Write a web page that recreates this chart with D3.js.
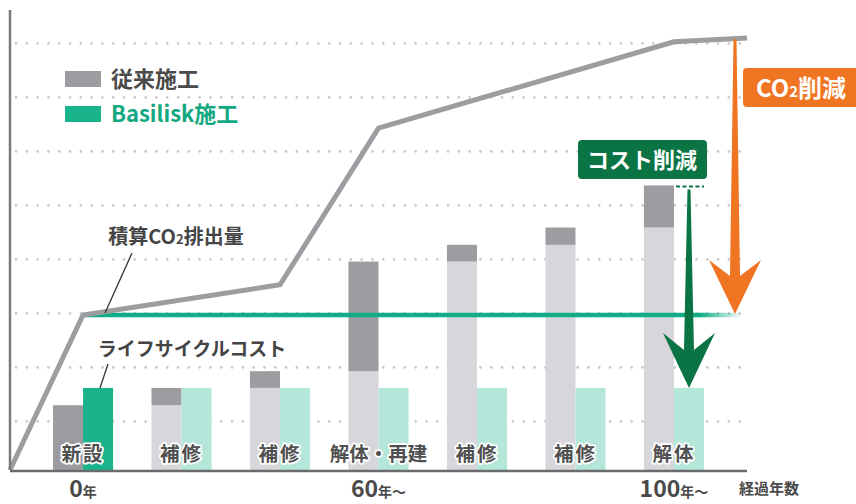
<!DOCTYPE html>
<html>
<head>
<meta charset="utf-8">
<script src="https://cdn.jsdelivr.net/npm/d3@7"></script>
<style>
body { margin: 0; background: #fff; }
text { font-family: "Noto Sans CJK JP", "Noto Sans", sans-serif; font-weight: 700; }
</style>
</head>
<body>
<script>
// events along the life of the structure
var events = ["新設", "補修", "補修", "解体・再建", "補修", "補修", "解体"];
// cost of each event (same unit for both)
var conventionalCost = [12, 3.2, 3.1, 20.3, 3.1, 3.2, 7.8];
var basiliskCost = [15.2, 0, 0, 0, 0, 0, 0];
// cumulative CO2: stage -1 = start of axis, 7 = end of axis
var co2Stage = [-1, 0, 2, 3, 6, 7];
var co2Conventional = [0, 28.7, 34.3, 63.3, 79.3, 80];
var co2BasiliskStage = [0, 7];
var co2Basilisk = [28.7, 28.7];
var gridValues = [9, 19, 29, 39, 49, 59, 69, 79];
var yearStage = [0, 3, 6];
var yearNum = ["0", "60", "100"];
var yearUnit = ["年", "年〜", "年〜"];

var w = 856, h = 504;
var x0 = 10, x1 = 747;

var svg = d3.select("body").append("svg")
	.attr("width", w)
	.attr("height", h);

var y = d3.scaleLinear()
	.domain([0, 85])
	.range([470, 11]);

var band = d3.scaleBand()
	.domain(d3.range(events.length))
	.range([53, 704])
	.paddingInner(0.39);

var sub = d3.scaleBand()
	.domain(["conv", "basi"])
	.range([0, band.bandwidth()]);

function stageX(i){
	if(i < 0) return x0;
	if(i >= events.length) return x1;
	return band(i) + band.bandwidth() / 2;
}

var convCum = d3.cumsum(conventionalCost);
var basiCum = d3.cumsum(basiliskCost);

// grid
svg.selectAll(".grid")
	.data(gridValues)
	.enter().append("line")
	.attr("class", "grid")
	.attr("x1", 16).attr("x2", x1)
	.attr("y1", d => y(d)).attr("y2", d => y(d))
	.attr("stroke", "#cacacd")
	.attr("stroke-width", 2.6)
	.attr("stroke-linecap", "round")
	.attr("stroke-dasharray", "0.1,10.7");

// conventional bars: light = accumulated so far, dark = this event
var convG = svg.append("g");
events.forEach(function(e, i){
	var prev = convCum[i] - conventionalCost[i];
	convG.append("rect")
		.attr("x", band(i) + sub("conv"))
		.attr("width", sub.bandwidth())
		.attr("y", y(prev))
		.attr("height", y(0) - y(prev))
		.attr("fill", "#d7d6da");
	convG.append("rect")
		.attr("x", band(i) + sub("conv"))
		.attr("width", sub.bandwidth())
		.attr("y", y(convCum[i]))
		.attr("height", y(prev) - y(convCum[i]))
		.attr("fill", "#9d9ca1");
});

var basiG = svg.append("g");
events.forEach(function(e, i){
	var prev = basiCum[i] - basiliskCost[i];
	basiG.append("rect")
		.attr("x", band(i) + sub("basi"))
		.attr("width", sub.bandwidth())
		.attr("y", y(prev))
		.attr("height", y(0) - y(prev))
		.attr("fill", "#b4e6d9");
	if(basiliskCost[i] > 0){
		basiG.append("rect")
			.attr("x", band(i) + sub("basi"))
			.attr("width", sub.bandwidth())
			.attr("y", y(basiCum[i]))
			.attr("height", y(prev) - y(basiCum[i]))
			.attr("fill", "#19b38c");
	}
});

// bar labels
svg.selectAll(".evlabel")
	.data(events)
	.enter().append("text")
	.attr("class", "evlabel")
	.attr("x", (d, i) => stageX(i))
	.attr("y", 461)
	.attr("text-anchor", "middle")
	.attr("font-size", 19.5)
	.attr("letter-spacing", d => d.length > 2 ? 0 : 2)
	.attr("fill", "#505050")
	.attr("stroke", "#fff")
	.attr("stroke-width", 3.5)
	.attr("stroke-linejoin", "round")
	.attr("paint-order", "stroke")
	.text(d => d);

// green fade
var defs = svg.append("defs");
var grad = defs.append("linearGradient")
	.attr("id", "fade")
	.attr("gradientUnits", "userSpaceOnUse")
	.attr("x1", 700).attr("x2", x1 - 5).attr("y1", 0).attr("y2", 0);
grad.append("stop").attr("offset", 0).attr("stop-color", "#11ad86").attr("stop-opacity", 1);
grad.append("stop").attr("offset", 1).attr("stop-color", "#11ad86").attr("stop-opacity", 0);

var line = d3.line()
	.x(d => stageX(d[0]))
	.y(d => y(d[1]));

svg.append("path")
	.datum(co2BasiliskStage.map((s, i) => [s, co2Basilisk[i]]))
	.attr("d", line)
	.attr("fill", "none")
	.attr("stroke", "url(#fade)")
	.attr("stroke-width", 4.5);

svg.append("path")
	.datum(co2Stage.map((s, i) => [s, co2Conventional[i]]))
	.attr("d", line)
	.attr("fill", "none")
	.attr("stroke", "#9d9da1")
	.attr("stroke-width", 5)
	.attr("stroke-linejoin", "miter");

// axes
svg.append("line")
	.attr("x1", x0).attr("x2", x0)
	.attr("y1", 10).attr("y2", y(0))
	.attr("stroke", "#7a7a7a").attr("stroke-width", 2.5);
svg.append("line")
	.attr("x1", x0).attr("x2", x1)
	.attr("y1", y(0) + 1).attr("y2", y(0) + 1)
	.attr("stroke", "#6b6b6b").attr("stroke-width", 2.5);

// year labels
var yl = svg.selectAll(".year")
	.data(yearStage)
	.enter().append("text")
	.attr("class", "year")
	.attr("x", d => stageX(d))
	.attr("y", 497)
	.attr("text-anchor", "middle")
	.attr("fill", "#4a4a4a");
yl.append("tspan").attr("font-size", 23).text((d, i) => yearNum[i]);
yl.append("tspan").attr("font-size", 14).text((d, i) => yearUnit[i]);

svg.append("text")
	.attr("x", 769).attr("y", 494)
	.attr("text-anchor", "middle")
	.attr("font-size", 15)
	.attr("fill", "#4a4a4a")
	.text("経過年数");

// arrows
function arrowPath(x, top, tip, wTop, wBot, headLen, notch, half){
	return "M" + (x - wTop / 2) + "," + top +
		"L" + (x - wBot / 2) + "," + (tip - notch) +
		"L" + (x - half) + "," + (tip - headLen) +
		"L" + x + "," + tip +
		"L" + (x + half) + "," + (tip - headLen) +
		"L" + (x + wBot / 2) + "," + (tip - notch) +
		"L" + (x + wTop / 2) + "," + top + "Z";
}

var last = events.length - 1;
var oX = x1 - 12;
svg.append("path")
	.attr("d", arrowPath(oX, y(co2Conventional[co2Conventional.length - 1]) + 1, y(co2Basilisk[1]) - 1, 3, 10, 54, 38, 26))
	.attr("fill", "#f07522");

var gX = band(last) + sub("basi") + sub.bandwidth() / 2;
svg.append("line")
	.attr("x1", band(last) + sub("basi") + 2).attr("x2", band(last) + band.bandwidth())
	.attr("y1", y(convCum[last]) + 1).attr("y2", y(convCum[last]) + 1)
	.attr("stroke", "#0b7444").attr("stroke-width", 2)
	.attr("stroke-dasharray", "4,2.5");
svg.append("path")
	.attr("d", arrowPath(gX, y(convCum[last]) + 4, y(basiCum[last]), 3, 10, 55, 38, 26))
	.attr("fill", "#0b7444");

// boxes
svg.append("rect")
	.attr("x", 743).attr("y", 68).attr("width", 120).attr("height", 39)
	.attr("rx", 4).attr("fill", "#f07522");
var co2t = svg.append("text")
	.attr("x", 801).attr("y", 97)
	.attr("text-anchor", "middle")
	.attr("fill", "#fff")
	.attr("font-size", 24);
co2t.append("tspan").text("CO");
co2t.append("tspan").attr("font-size", 15).text("2");
co2t.append("tspan").text("削減");

svg.append("rect")
	.attr("x", 578).attr("y", 140).attr("width", 129).attr("height", 39)
	.attr("rx", 4).attr("fill", "#0b7444");
svg.append("text")
	.attr("x", 642).attr("y", 168)
	.attr("text-anchor", "middle")
	.attr("fill", "#fff")
	.attr("font-size", 22)
	.text("コスト削減");

// legend
svg.append("rect").attr("x", 65).attr("y", 71).attr("width", 36).attr("height", 16).attr("fill", "#9d9ca1");
svg.append("text").attr("x", 111).attr("y", 87).attr("font-size", 22).attr("fill", "#4a4a4a").text("従来施工");
svg.append("rect").attr("x", 65).attr("y", 106).attr("width", 36).attr("height", 16).attr("fill", "#19b38c");
svg.append("text").attr("x", 111).attr("y", 122).attr("font-size", 22).attr("fill", "#14a882").text("Basilisk施工");

// callouts
var lab1 = svg.append("text")
	.attr("x", 176).attr("y", 244)
	.attr("text-anchor", "middle")
	.attr("font-size", 20)
	.attr("fill", "#444");
lab1.append("tspan").text("積算CO");
lab1.append("tspan").attr("font-size", 13).text("2");
lab1.append("tspan").text("排出量");
svg.append("line")
	.attr("x1", 132).attr("y1", 253).attr("x2", 105).attr("y2", y(co2Conventional[1]) - 2)
	.attr("stroke", "#333").attr("stroke-width", 1.3);

svg.append("text")
	.attr("x", 192).attr("y", 356)
	.attr("text-anchor", "middle")
	.attr("font-size", 19)
	.attr("fill", "#444")
	.text("ライフサイクルコスト");
svg.append("line")
	.attr("x1", 108).attr("y1", 364).attr("x2", 100).attr("y2", y(basiCum[0]))
	.attr("stroke", "#333").attr("stroke-width", 1.3);
</script>
</body>
</html>
